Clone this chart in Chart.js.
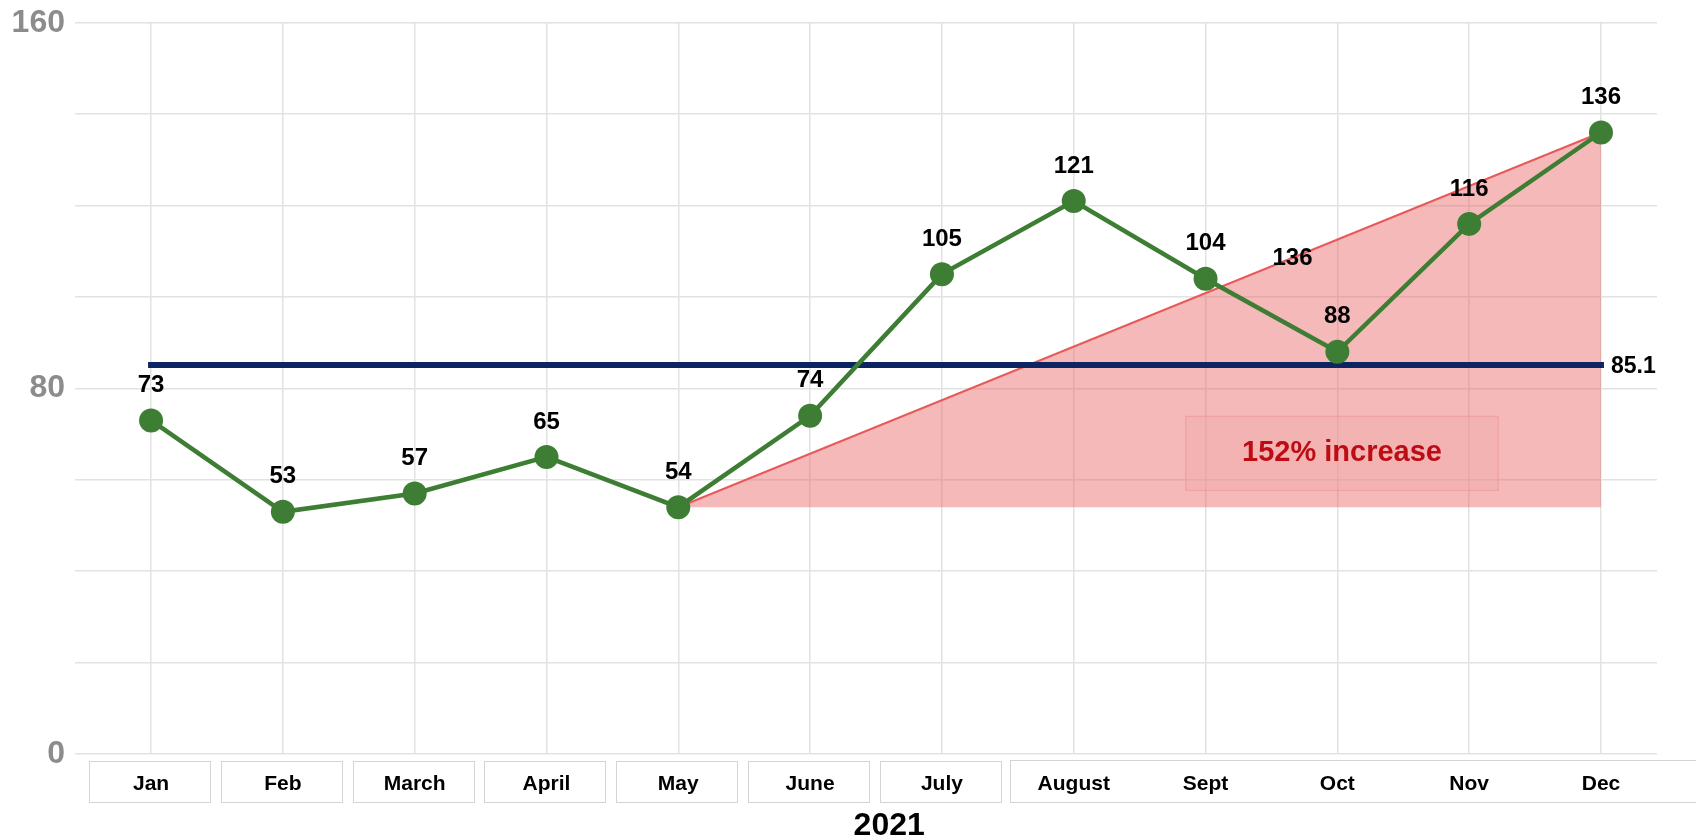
<!DOCTYPE html>
<html lang="en">
<head>
    <meta charset="UTF-8">
    <title>Monthly Trend 2021</title>
    <script src="https://cdn.jsdelivr.net/npm/chart.js@4"></script>
    <style>
        body {
            margin: 0;
            background: #ffffff;
        }
        .chart-container {
            width: 1696px;
            height: 840px;
        }
    </style>
</head>
<body>
    <div class="chart-container">
        <canvas id="trendChart"></canvas>
    </div>

    <script>
        // Chart data
        const months = ["Jan", "Feb", "March", "April", "May", "June", "July", "August", "Sept", "Oct", "Nov", "Dec"];
        const values = [73, 53, 57, 65, 54, 74, 105, 121, 104, 88, 116, 136];
        const yTickLabels = [0, 80, 160];
        const meanValue = 85.1;
        const axisTitle = "2021";

        // Trend triangle: from May (index 4) to Dec (index 11)
        const trendStart = 4;
        const trendEnd = 11;
        const trendNote = { x: 8.66, y: 108.5, text: "136" };
        const increaseText = "152% increase";
        const increaseBox = { x0: 7.85, x1: 10.22, y0: 57.7, y1: 73.9 };

        const green = '#3e7d34';
        const navy = '#0c2461';
        const fontFamily = 'Arial, "Liberation Sans", sans-serif';

        const lineData = values.map((v, i) => ({ x: i, y: v }));
        const meanData = [{ x: 0, y: meanValue }, { x: values.length - 1, y: meanValue }];
        const trendData = [
            { x: trendStart, y: values[trendStart] },
            { x: trendEnd, y: values[trendEnd] }
        ];

        // Labels, mean label, boxes around month labels, annotation box
        const extrasPlugin = {
            id: 'extras',
            afterDraw(chart) {
                const ctx = chart.ctx;
                const xs = chart.scales.x;
                const ys = chart.scales.y;
                ctx.save();

                // boxes around month labels
                ctx.strokeStyle = '#d4d4d4';
                ctx.lineWidth = 1;
                for (let i = 0; i < 7; i++) {
                    const cx = xs.getPixelForValue(i) - 1.5;
                    ctx.strokeRect(Math.round(cx - 60.5) + 0.5, 761.5, 121, 41);
                }
                const bx = xs.getPixelForValue(7) - 64;
                ctx.strokeRect(Math.round(bx) + 0.5, 760.5, 700, 42);

                // axis title
                ctx.fillStyle = '#000';
                ctx.font = 'bold 32px ' + fontFamily;
                ctx.textAlign = 'center';
                ctx.textBaseline = 'middle';
                ctx.fillText(axisTitle, xs.getPixelForValue(5.6), 826);

                // annotation box
                const x0 = xs.getPixelForValue(increaseBox.x0);
                const x1 = xs.getPixelForValue(increaseBox.x1);
                const y0 = ys.getPixelForValue(increaseBox.y1);
                const y1 = ys.getPixelForValue(increaseBox.y0);
                ctx.fillStyle = 'rgba(240, 170, 170, 0.35)';
                ctx.fillRect(x0, y0, x1 - x0, y1 - y0);
                ctx.strokeStyle = 'rgba(235, 140, 140, 0.6)';
                ctx.strokeRect(x0, y0, x1 - x0, y1 - y0);
                ctx.fillStyle = '#bd0d14';
                ctx.font = 'bold 29px ' + fontFamily;
                ctx.fillText(increaseText, (x0 + x1) / 2, (y0 + y1) / 2);

                // note on the trend line
                ctx.fillStyle = '#000';
                ctx.font = 'bold 24px ' + fontFamily;
                ctx.fillText(trendNote.text, xs.getPixelForValue(trendNote.x), ys.getPixelForValue(trendNote.y));

                // data labels
                const meta = chart.getDatasetMeta(0);
                meta.data.forEach((pt, i) => {
                    ctx.fillText(values[i], pt.x, pt.y - 35);
                });

                // mean label
                const meanMeta = chart.getDatasetMeta(1);
                const last = meanMeta.data[meanMeta.data.length - 1];
                ctx.textAlign = 'left';
                ctx.font = 'bold 23px ' + fontFamily;
                ctx.fillText(meanValue, last.x + 10, last.y + 2);

                ctx.restore();
            }
        };

        const ctx = document.getElementById('trendChart').getContext('2d');

        new Chart(ctx, {
            type: 'line',
            data: {
                datasets: [
                    {
                        label: 'Value',
                        data: lineData,
                        borderColor: green,
                        backgroundColor: green,
                        borderWidth: 4.5,
                        pointRadius: 12,
                        pointBackgroundColor: green,
                        pointBorderWidth: 0,
                        tension: 0,
                        order: 0
                    },
                    {
                        label: 'Average',
                        data: meanData,
                        borderColor: navy,
                        borderWidth: 6,
                        borderCapStyle: 'square',
                        pointRadius: 0,
                        order: 1
                    },
                    {
                        label: 'Trend',
                        data: trendData,
                        borderColor: '#e85a5a',
                        borderWidth: 2,
                        backgroundColor: 'rgba(232, 95, 95, 0.44)',
                        fill: { value: values[trendStart] },
                        pointRadius: 0,
                        order: 2
                    }
                ]
            },
            options: {
                responsive: true,
                maintainAspectRatio: false,
                animation: false,
                layout: {
                    padding: { top: 22, right: 39, left: 0, bottom: 0 }
                },
                plugins: {
                    legend: { display: false },
                    tooltip: { enabled: false }
                },
                scales: {
                    x: {
                        type: 'linear',
                        min: -0.577,
                        max: 11.425,
                        border: { display: false },
                        grid: {
                            color: '#e2e2e2',
                            lineWidth: 1.5,
                            drawTicks: false
                        },
                        ticks: {
                            stepSize: 1,
                            includeBounds: false,
                            autoSkip: false,
                            maxRotation: 0,
                            padding: 18,
                            color: '#000',
                            font: { family: fontFamily, size: 21, weight: 'bold' },
                            callback: (v) => Number.isInteger(v) ? months[v] : ''
                        },
                        afterFit: (scale) => { scale.height = 86; }
                    },
                    y: {
                        min: 0,
                        max: 160,
                        border: { display: false },
                        grid: {
                            color: '#e2e2e2',
                            lineWidth: 1.5,
                            drawTicks: false
                        },
                        ticks: {
                            stepSize: 20,
                            padding: 10,
                            color: '#8c8c8c',
                            font: { family: fontFamily, size: 32, weight: 'bold', lineHeight: 0.8 },
                            callback: (v) => yTickLabels.includes(v) ? v : ''
                        },
                        afterFit: (scale) => { scale.width = 75; }
                    }
                }
            },
            plugins: [extrasPlugin]
        });
    </script>
</body>
</html>
